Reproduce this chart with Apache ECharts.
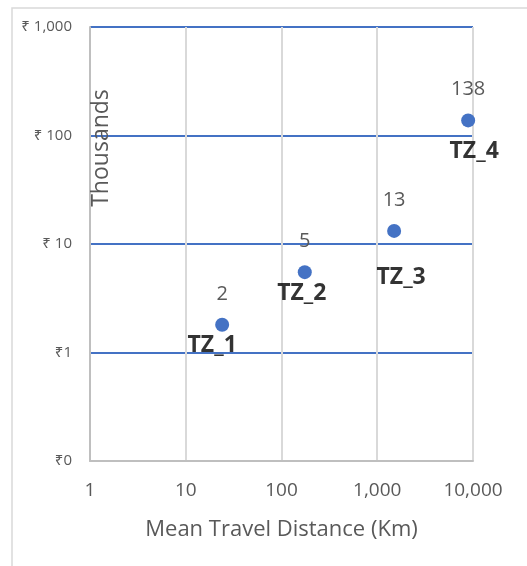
<!DOCTYPE html>
<html>
<head>
<meta charset="utf-8">
<script src="https://cdn.jsdelivr.net/npm/echarts@6/dist/echarts.min.js"></script>
<style>html,body{margin:0;padding:0;background:#fff}#c{width:527px;height:566px}</style>
</head>
<body>
<div id="c"></div>
<script>
var names = ['TZ_1', 'TZ_2', 'TZ_3', 'TZ_4'];
var distance = [24, 175, 1500, 8900];
var cost = [1.8, 5.5, 13.2, 137.8];
var valueLabels = ['2', '5', '13', '138'];
var yTickLabels = {'0.1': '₹0', '1': '₹1', '10': '₹ 10', '100': '₹ 100', '1000': '₹ 1,000'};
var xTickLabels = {'1': '1', '10': '10', '100': '100', '1000': '1,000', '10000': '10,000'};
var yUnitText = 'Thousands';
var xTitle = 'Mean Travel Distance (Km)';
// manual nudges of the point-name labels, as placed in the original
var nameLabelOffsets = [[-10, -9], [-3, -8], [7, 17], [6, 2]];

var chart = echarts.init(document.getElementById('c'));
var font = '"Open Sans", "Noto Sans", sans-serif';
var pts = names.map(function (n, i) { return [distance[i], cost[i], n, valueLabels[i]]; });
var namePts = names.map(function (n, i) {
  return {value: [distance[i], cost[i], n], label: {offset: nameLabelOffsets[i]}};
});

chart.setOption({
  animation: false,
  textStyle: {fontFamily: font},
  graphic: [{
    type: 'rect', shape: {x: 12, y: 8, width: 600, height: 600},
    style: {fill: 'none', stroke: '#d9d9d9', lineWidth: 1.5}, silent: true, z: -10
  }, {
    type: 'text', x: 101, y: 148, rotation: Math.PI / 2, silent: true, z: 10,
    style: {text: yUnitText, fill: '#595959', fontSize: 23, fontFamily: font, align: 'center', verticalAlign: 'middle'}
  }],
  grid: {left: 90, right: 54, top: 27, bottom: 105, containLabel: false, outerBoundsMode: 'none'},
  xAxis: {
    type: 'log', logBase: 10, min: 1, max: 10000,
    name: xTitle, nameLocation: 'middle', nameGap: 58, nameMoveOverlap: false,
    nameTextStyle: {color: '#595959', fontSize: 22, fontFamily: font},
    axisLine: {show: true, lineStyle: {color: '#bfbfbf', width: 2}},
    axisTick: {show: false},
    axisLabel: {color: '#595959', fontSize: 19, margin: 20, fontFamily: font,
      formatter: function (v) { return xTickLabels[String(Math.round(v))] || ''; }},
    splitLine: {show: true, lineStyle: {color: '#d9d9d9', width: 2}}
  },
  yAxis: {
    type: 'log', logBase: 10, min: 0.1, max: 1000,
    axisLine: {show: true, lineStyle: {color: '#bfbfbf', width: 2}},
    axisTick: {show: false},
    axisLabel: {color: '#595959', fontSize: 15, margin: 18, fontFamily: font,
      formatter: function (v) {
        var k = v < 0.5 ? '0.1' : String(Math.round(v));
        return yTickLabels[k] || '';
      }},
    splitLine: {show: true, lineStyle: {color: '#4472c4', width: 2}}
  },
  series: [{
    type: 'scatter', symbolSize: 14,
    itemStyle: {color: '#4472c4', opacity: 1},
    data: pts,
    label: {show: true, position: 'top', distance: 14, color: '#595959', fontSize: 20, fontFamily: font,
      formatter: function (p) { return p.data[3]; }},
    z: 5
  }, {
    type: 'scatter', symbolSize: 0,
    data: namePts,
    label: {show: true, position: 'bottom', distance: 18, color: '#000', fontSize: 23, fontWeight: 'bold', fontFamily: font,
      formatter: function (p) { return p.value[2]; }},
    z: 6
  }]
});
</script>
</body>
</html>
